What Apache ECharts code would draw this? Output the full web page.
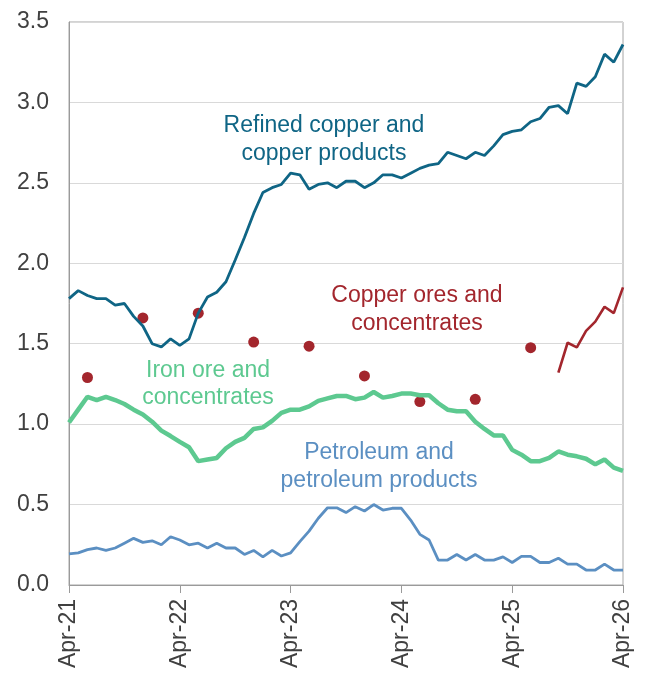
<!DOCTYPE html>
<html>
<head>
<meta charset="utf-8">
<script src="https://cdn.jsdelivr.net/npm/echarts@6/dist/echarts.min.js"></script>
<style>
  html, body { margin: 0; padding: 0; background: #fff; }
  #chart { width: 648px; height: 675px; }
</style>
</head>
<body>
<div id="chart"></div>
<script>
// monthly axis, Apr-21 .. Apr-26
const monthNames = ['Jan', 'Feb', 'Mar', 'Apr', 'May', 'Jun', 'Jul', 'Aug', 'Sep', 'Oct', 'Nov', 'Dec']
const months = []
for (let i = 0; i < 61; i++) {
  const d = new Date(2021, 3 + i, 1)
  months.push(monthNames[d.getMonth()] + '-' + String(d.getFullYear()).slice(2))
}

const yTicks = [0, 0.5, 1.0, 1.5, 2.0, 2.5, 3.0, 3.5]

const refinedCopper = [
  1.78, 1.83, 1.80, 1.78, 1.78, 1.74, 1.75, 1.67, 1.61, 1.50,
  1.48, 1.53, 1.49, 1.53, 1.69, 1.79, 1.82, 1.885, 2.02, 2.16,
  2.31, 2.44, 2.47, 2.49, 2.56, 2.55, 2.46, 2.49, 2.50, 2.47,
  2.51, 2.51, 2.47, 2.50, 2.55, 2.55, 2.53, 2.56, 2.59, 2.61,
  2.62, 2.69, 2.67, 2.65, 2.69, 2.67, 2.73, 2.80, 2.82, 2.83,
  2.88, 2.90, 2.97, 2.98, 2.93, 3.12, 3.10, 3.16, 3.30, 3.25, 3.36
]

const ironOre = [
  1.01, 1.09, 1.17, 1.15, 1.17, 1.15, 1.125, 1.09, 1.06, 1.015,
  0.96, 0.926, 0.89, 0.856, 0.77, 0.78, 0.79, 0.85, 0.89, 0.915,
  0.97, 0.98, 1.02, 1.07, 1.09, 1.09, 1.11, 1.145, 1.16, 1.175,
  1.175, 1.155, 1.165, 1.20, 1.165, 1.175, 1.19, 1.19, 1.18, 1.18,
  1.13, 1.09, 1.08, 1.08, 1.015, 0.97, 0.93, 0.93, 0.84, 0.81,
  0.77, 0.77, 0.79, 0.83, 0.81, 0.80, 0.785, 0.75, 0.78, 0.73, 0.71
]

const petroleum = [
  0.193, 0.20, 0.22, 0.23, 0.215, 0.23, 0.26, 0.29, 0.265, 0.275,
  0.25, 0.30, 0.28, 0.25, 0.26, 0.23, 0.26, 0.23, 0.23, 0.19,
  0.215, 0.175, 0.215, 0.18, 0.20, 0.27, 0.335, 0.415, 0.48, 0.48,
  0.45, 0.487, 0.46, 0.50, 0.466, 0.477, 0.477, 0.404, 0.315, 0.28,
  0.155, 0.155, 0.19, 0.155, 0.19, 0.155, 0.155, 0.175, 0.14, 0.178,
  0.178, 0.14, 0.14, 0.166, 0.13, 0.13, 0.093, 0.093, 0.13, 0.093, 0.093
]

// semi-annual readings, then monthly from late 2025
const copperOres = months.map(() => null)
const copperOresPoints = {
  2: 1.29, 8: 1.66, 14: 1.69, 20: 1.51, 26: 1.485, 32: 1.30, 38: 1.14, 44: 1.154, 50: 1.475,
  53: 1.32, 54: 1.506, 55: 1.477, 56: 1.58, 57: 1.637, 58: 1.73, 59: 1.69, 60: 1.85
}
Object.keys(copperOresPoints).forEach(k => { copperOres[+k] = copperOresPoints[k] })

const colors = {
  refined: '#0f6585',
  ores: '#a3262d',
  iron: '#5dc990',
  petro: '#5b8fc2'
}

// split copper ores into isolated dots and the continuous tail
const oresDots = copperOres.map((v, i) => {
  if (v == null) return '-'
  const prev = copperOres[i - 1], next = copperOres[i + 1]
  return (prev == null && next == null) ? v : '-'
})
const oresLine = copperOres.map((v, i) => (v != null && oresDots[i] === '-') ? v : '-')

const font = '"Liberation Sans", Arial, sans-serif'
const chart = echarts.init(document.getElementById('chart'))

const option = {
  animation: false,
  grid: {
    left: 69, right: 25, top: 22, bottom: 90,
    show: true, borderColor: '#a6a6a6', borderWidth: 1
  },
  xAxis: {
    type: 'category',
    boundaryGap: false,
    data: months,
    axisLine: { lineStyle: { color: '#9a9a9a', width: 1 } },
    axisTick: { interval: 11, length: 8, lineStyle: { color: '#9a9a9a' } },
    axisLabel: {
      interval: 11, rotate: 90, margin: 14,
      fontSize: 23, color: '#404040', fontFamily: font
    },
    splitLine: { show: false }
  },
  yAxis: {
    type: 'value',
    min: yTicks[0],
    max: yTicks[yTicks.length - 1],
    interval: 0.5,
    axisLine: { show: true, lineStyle: { color: '#9a9a9a' } },
    axisTick: { show: false },
    axisLabel: {
      margin: 20, fontSize: 23, color: '#404040', fontFamily: font,
      formatter: v => v.toFixed(1)
    },
    splitLine: { lineStyle: { color: '#d9d9d9', width: 1 } }
  },
  series: [
    {
      name: 'Petroleum and petroleum products',
      type: 'line', data: petroleum, showSymbol: false,
      lineStyle: { color: colors.petro, width: 2.8 }
    },
    {
      name: 'Iron ore and concentrates',
      type: 'line', data: ironOre, showSymbol: false,
      lineStyle: { color: colors.iron, width: 4.5 }
    },
    {
      name: 'Copper ores and concentrates',
      type: 'line', data: oresLine, showSymbol: false, connectNulls: false,
      lineStyle: { color: colors.ores, width: 2.6 }
    },
    {
      name: 'Refined copper and copper products',
      type: 'line', data: refinedCopper, showSymbol: false,
      lineStyle: { color: colors.refined, width: 2.8 }
    },
    {
      name: 'Copper ores and concentrates (points)',
      type: 'scatter', data: oresDots, symbolSize: 11,
      itemStyle: { color: colors.ores, opacity: 1 }
    }
  ],
  graphic: [
    { type: 'text', x: 324, y: 140, style: { text: 'Refined copper and\ncopper products', fill: colors.refined, font: '23px ' + font, align: 'center', verticalAlign: 'middle', lineHeight: 28 } },
    { type: 'text', x: 417, y: 310, style: { text: 'Copper ores and\nconcentrates', fill: colors.ores, font: '23px ' + font, align: 'center', verticalAlign: 'middle', lineHeight: 28 } },
    { type: 'text', x: 208, y: 384, style: { text: 'Iron ore and\nconcentrates', fill: colors.iron, font: '23px ' + font, align: 'center', verticalAlign: 'middle', lineHeight: 27 } },
    { type: 'text', x: 379, y: 467, style: { text: 'Petroleum and\npetroleum products', fill: colors.petro, font: '23px ' + font, align: 'center', verticalAlign: 'middle', lineHeight: 28 } }
  ]
}

chart.setOption(option)
window.addEventListener('resize', function () {
  chart.resize()
})
</script>
</body>
</html>
